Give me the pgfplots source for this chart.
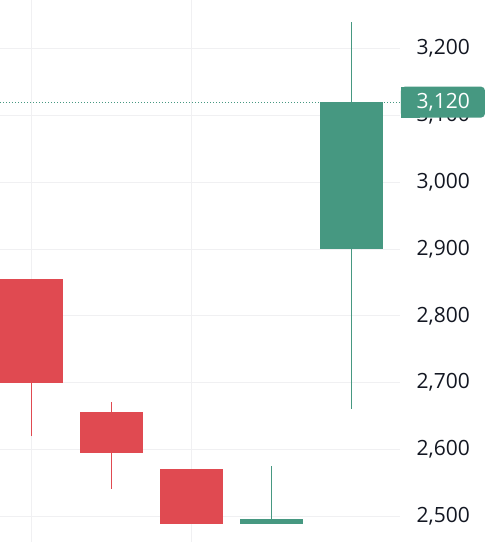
\documentclass[border=0pt]{standalone}
\usepackage{pgfplots}
\pgfplotsset{compat=1.18}
\usepackage{fontspec}
\setmainfont{Open Sans}
\definecolor{cred}{RGB}{224,74,81}
\definecolor{cgreen}{RGB}{70,152,129}
\definecolor{gridc}{RGB}{240,240,242}
\definecolor{txt}{RGB}{19,23,34}
\begin{document}
\begin{tikzpicture}
\begin{axis}[
  at={(0,0)}, anchor=south west,
  scale only axis, width=400pt, height=542pt,
  xmin=-0.391, xmax=4.609,
  ymin=2461.5, ymax=3272.9,
  axis line style={draw=none},
  major tick length=0pt,
  xtick={0,2}, xticklabels={},
  ytick={2500,2600,2700,2800,2900,3000,3100,3200},
  yticklabel pos=right,
  xmajorgrids, ymajorgrids,
  grid style={gridc, line width=1pt},
  /pgf/number format/assume math mode=true,
  /pgf/number format/1000 sep={,},
  y tick label style={anchor=west, inner sep=0pt, xshift=16.5pt, font=\fontsize{21}{24}\selectfont, text=txt},
  clip=false,
]
% price line
\addplot[cgreen, line width=1pt, dash pattern=on 1.2pt off 1.8pt] coordinates {(-0.391,3120) (4.609,3120)};
% wicks
\addplot[cred, line width=1pt] coordinates {(0,2620) (0,2855)};
\addplot[cred, line width=1pt] coordinates {(1,2541) (1,2671)};
\addplot[cgreen, line width=1pt] coordinates {(3,2489) (3,2575)};
\addplot[cgreen, line width=1pt] coordinates {(4,2661) (4,3240)};
% bodies
\addplot[fill=cred, draw=none] coordinates {(-0.391,2700) (0.394,2700) (0.394,2855) (-0.391,2855)};
\addplot[fill=cred, draw=none] coordinates {(0.606,2595) (1.394,2595) (1.394,2656) (0.606,2656)};
\addplot[fill=cred, draw=none] coordinates {(1.606,2489) (2.394,2489) (2.394,2571) (1.606,2571)};
\addplot[fill=cgreen, draw=none] coordinates {(2.606,2489) (3.394,2489) (3.394,2496) (2.606,2496)};
\addplot[fill=cgreen, draw=none] coordinates {(3.606,2900) (4.394,2900) (4.394,3120) (3.606,3120)};
% price label
\fill[cgreen, rounded corners=4pt] ([xshift=1pt,yshift=-15.5pt]axis cs:4.609,3120) rectangle ([xshift=85pt,yshift=15.5pt]axis cs:4.609,3120);
\fill[cgreen] ([xshift=1pt,yshift=-15.5pt]axis cs:4.609,3120) rectangle ([xshift=20pt,yshift=15.5pt]axis cs:4.609,3120);
\node[anchor=west, inner sep=0pt, text=white, font=\fontsize{21}{24}\selectfont] at ([xshift=16.5pt]axis cs:4.609,3120) {3,120};
\end{axis}
\pgfresetboundingbox
\path (0,0) rectangle (492pt,542pt);
\end{tikzpicture}
\end{document}
